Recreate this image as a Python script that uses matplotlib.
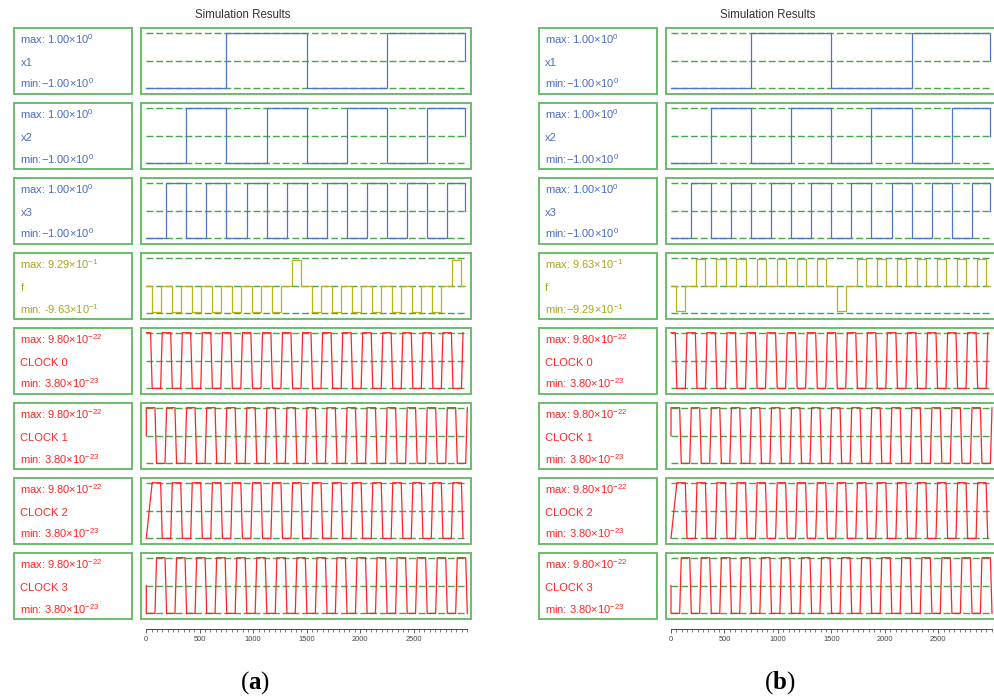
import matplotlib.pyplot as plt
from matplotlib.ticker import MultipleLocator, FixedLocator

plt.rcParams['font.family'] = 'Liberation Sans'
plt.rcParams['mathtext.fontset'] = 'custom'
plt.rcParams['mathtext.rm'] = 'Liberation Sans'
plt.rcParams['mathtext.it'] = 'Liberation Sans:italic'
plt.rcParams['mathtext.bf'] = 'Liberation Serif:bold'

# == DATA ===================================================================== #
# inputs x1..x3 (same in a and b): switch times and levels
x1_t = [0, 750, 1500, 2250, 2985]
x1_v = [-1, 1, -1, 1, 0]
x2_t = [0, 375, 750, 1125, 1500, 1875, 2250, 2625, 2985]
x2_v = [-1, 1, -1, 1, -1, 1, -1, 1, 0]
x3_t = [0, 187.5, 375, 562.5, 750, 937.5, 1125, 1312.5, 1500, 1687.5, 1875,
        2062.5, 2250, 2437.5, 2625, 2812.5, 2985]
x3_v = [-1, 1, -1, 1, -1, 1, -1, 1, -1, 1, -1, 1, -1, 1, -1, 1, 0]

# output f: pulses (start, end, level) around a zero baseline
f_on = [50, 237, 425, 612, 800, 987, 1175, 1362, 1550, 1737, 1925, 2112,
        2300, 2487, 2675, 2862]
f_off = [135, 322, 510, 697, 885, 1072, 1260, 1447, 1635, 1822, 2010, 2197,
         2385, 2572, 2760, 2947]
f_a = [-0.963, -0.963, -0.963, -0.963, -0.963, -0.963, -0.963, 0.929,
       -0.963, -0.963, -0.963, -0.963, -0.963, -0.963, -0.963, 0.929]
f_b = [-0.929, 0.963, 0.963, 0.963, 0.963, 0.963, 0.963, 0.963,
       -0.929, 0.963, 0.963, 0.963, 0.963, 0.963, 0.963, 0.963]
f_end = 2985

# clocks: edge start times (alternating), ramp length, start levels (1=max, 0=min)
clk02_edges = [40, 134, 228, 322, 415, 509, 603, 697, 790, 884, 978, 1072,
               1165, 1259, 1353, 1447, 1540, 1634, 1728, 1822, 1915, 2009,
               2103, 2197, 2290, 2384, 2478, 2572, 2665, 2759, 2853, 2947]
clk13_edges = [81, 175, 268, 362, 456, 550, 643, 737, 831, 925, 1018, 1112,
               1206, 1300, 1393, 1487, 1581, 1675, 1768, 1862, 1956, 2050,
               2143, 2237, 2331, 2425, 2518, 2612, 2706, 2800, 2893, 2987]
clk_ramp = 15
clk_first = [40, 81, 0, 81]          # start of first transition
clk_start_t = [[0], [0, 0], [0], [0, 0]]
clk_start_v = [[1], [0.5, 1], [0], [0.5, 0]]
clk_lo, clk_hi = 3.80e-23, 9.80e-22

names = ['x1', 'x2', 'x3', 'f', 'CLOCK 0', 'CLOCK 1', 'CLOCK 2', 'CLOCK 3']
lab_x = ['max: 1.00\u00d710$^{0}$', 'min:\u22121.00\u00d710$^{0}$']
lab_fa = ['max: 9.29\u00d710$^{-1}$', 'min: -9.63\u00d710$^{-1}$']
lab_fb = ['max: 9.63\u00d710$^{-1}$', 'min:\u22129.29\u00d710$^{-1}$']
lab_clk = ['max: 9.80\u00d710$^{-22}$', 'min: 3.80\u00d710$^{-23}$']
tick_vals = [0, 500, 1000, 1500, 2000, 2500]

# == STYLE ==================================================================== #
W, H = 994, 696
BLUE, BLUE_T = '#4f74c4', '#4a6cc0'
OLIVE, OLIVE_T = '#b3b31c', '#a6a620'
RED = '#ff2525'
BOX = '#6dbb6d'
DASH = '#4ea34e'
ROW0, STEP, RH = 27.7, 75.0, 66.7
PX_PER = 0.10693          # pixels per time unit
T0 = 5.3                  # px from panel left to t=0
DX_B = 524.7


def px_axes(x, y, w, h):
    return fig.add_axes([x / W, 1 - (y + h) / H, w / W, h / H])


def steps(ts, vs):
    return list(ts), list(vs)


def f_series(levels):
    t, v = [0], [0]
    for a, b, lv in zip(f_on, f_off, levels):
        t += [a, b]
        v += [lv, 0]
    t.append(f_end)
    v.append(0)
    return t, v


def clock_series(k):
    edges = clk02_edges if k in (0, 2) else clk13_edges
    t = list(clk_start_t[k])
    v = list(clk_start_v[k])
    cur = v[-1]
    for i, e in enumerate(edges):
        new = 1 - cur
        t += [clk_first[k] if i == 0 else e, e + clk_ramp]
        v += [cur, new]
        cur = new
    return t, [clk_lo + lv * (clk_hi - clk_lo) for lv in v]


def box_style(ax):
    ax.set_xticks([])
    ax.set_yticks([])
    for s in ax.spines.values():
        s.set_color(BOX)
        s.set_linewidth(1.4)


def draw_column(dx, f_levels, f_labels):
    fig.text((242.8 + dx) / W, 1 - 14.7 / H, 'Simulation Results',
             ha='center', va='center', fontsize=8.3, color='#333333')
    for i, name in enumerate(names):
        y0 = ROW0 + STEP * i
        if i < 3:
            t, v = steps([x1_t, x2_t, x3_t][i], [x1_v, x2_v, x3_v][i])
            col, tcol, labs, step = BLUE, BLUE_T, lab_x, True
            lo, hi = -1, 1
        elif i == 3:
            t, v = f_series(f_levels)
            col, tcol, labs, step = OLIVE, OLIVE_T, f_labels, True
            lo, hi = -1, 1
        else:
            t, v = clock_series(i - 4)
            col, tcol, labs, step = RED, RED, lab_clk, False
            lo, hi = clk_lo, clk_hi

        lab = px_axes(14.3 + dx, y0, 118, RH)
        box_style(lab)
        for s, yy in zip([labs[0], name, labs[1]], [16.0, 38.3, 60.8]):
            fig.text((20.5 + dx) / W, 1 - (y0 + yy) / H, s, ha='left',
                     va='baseline', fontsize=8, color=tcol)

        ax = px_axes(141 + dx, y0, 330, RH)
        box_style(ax)
        ax.set_xlim(-T0 / PX_PER, (330 - T0) / PX_PER)
        c, h = (hi + lo) / 2, (hi - lo) / 2
        ax.set_ylim(c - h * (1 + 6 / 27.85), c + h * (1 + 5 / 27.85))
        ax.hlines([lo, c, hi], 0, 2996, colors=DASH, lw=1.0,
                  linestyles=(0, (5, 2)), zorder=1)
        ax.plot(t, v, color=col, lw=0.9, zorder=2,
                drawstyle='steps-post' if step else 'default')

    axx = px_axes(146.3 + dx, 600, 3000 * PX_PER, 29)
    axx.set_xlim(0, 3000)
    axx.set_ylim(0, 1)
    for s in ['top', 'left', 'right']:
        axx.spines[s].set_visible(False)
    axx.spines['bottom'].set_color('#444444')
    axx.spines['bottom'].set_linewidth(0.7)
    axx.set_yticks([])
    axx.xaxis.set_major_locator(FixedLocator(tick_vals))
    axx.xaxis.set_minor_locator(MultipleLocator(50))
    axx.set_xticklabels([str(v) for v in tick_vals])
    axx.tick_params(axis='x', which='major', length=3, width=0.6,
                    color='#444444', labelsize=5.4, labelcolor='#444444', pad=2)
    axx.tick_params(axis='x', which='minor', length=2, width=0.5,
                    color='#444444')
    axx.patch.set_alpha(0)


fig = plt.figure(figsize=(W / 100, H / 100), dpi=100)
draw_column(0, f_a, lab_fa)
draw_column(DX_B, f_b, lab_fb)

fig.text(254.7 / W, 1 - 689 / H, r'($\mathbf{a}$)', ha='center',
         va='baseline', fontsize=18, family='Liberation Serif')
fig.text((254.7 + DX_B) / W, 1 - 689 / H, r'($\mathbf{b}$)', ha='center',
         va='baseline', fontsize=18, family='Liberation Serif')

fig.savefig('out.png', dpi=100)
